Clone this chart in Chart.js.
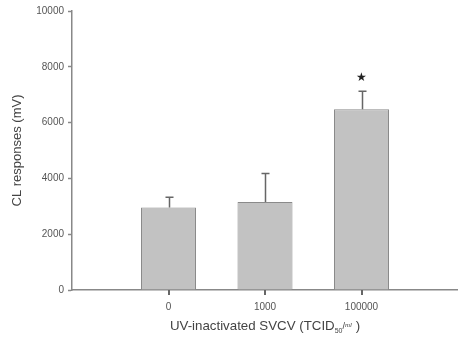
<!DOCTYPE html>
<html>
<head>
<meta charset="utf-8">
<script src="https://cdn.jsdelivr.net/npm/chart.js@4/dist/chart.umd.min.js"></script>
<style>
  body { margin: 0; background: #fff; }
  canvas { display: block; }
</style>
</head>
<body>
<canvas id="chart" width="458" height="341"></canvas>
<script>
// edge slots are empty so the bars sit one slot in from each end of the axis
var doses = ['', '0', '1000', '100000', ''];
var responses = [null, 2960, 3150, 6480, null];
var errUp = [null, 360, 1030, 640, null];
var starred = [false, false, false, true, false];
var yTicks = [0, 2000, 4000, 6000, 8000, 10000];

var fontName = '"Liberation Sans", Arial, sans-serif';

// error bars (upper half only) and the significance star
var errorBars = {
  id: 'errorBars',
  afterDatasetsDraw: function (chart) {
    var ctx = chart.ctx;
    var y = chart.scales.y;
    var meta = chart.getDatasetMeta(0);
    ctx.save();
    ctx.lineWidth = 1.5;
    ctx.strokeStyle = '#666';
    meta.data.forEach(function (bar, i) {
      if (responses[i] == null) return;
      var cx = Math.round(bar.x) + 0.5;
      var top = y.getPixelForValue(responses[i] + errUp[i]);
      ctx.beginPath();
      ctx.moveTo(cx, bar.y);
      ctx.lineTo(cx, top);
      ctx.moveTo(cx - 4, top);
      ctx.lineTo(cx + 4, top);
      ctx.stroke();
      if (starred[i]) {
        ctx.fillStyle = '#222';
        ctx.font = '12px ' + fontName;
        ctx.textAlign = 'center';
        ctx.textBaseline = 'middle';
        ctx.fillText('\u2605', bar.x, top - 14);
      }
    });
    ctx.restore();
  }
};

// x tick marks for the labelled slots and the x title (it needs a subscript)
var xTitle = {
  id: 'xTitle',
  afterDraw: function (chart) {
    var ctx = chart.ctx;
    var xs = chart.scales.x;
    ctx.save();
    ctx.strokeStyle = '#666';
    ctx.lineWidth = 2;
    doses.forEach(function (d, i) {
      if (d === '') return;
      var px = Math.round(xs.getPixelForValue(i));
      ctx.beginPath();
      ctx.moveTo(px, xs.top);
      ctx.lineTo(px, xs.top + 5);
      ctx.stroke();
    });

    var parts = [
      { t: 'UV-inactivated SVCV (TCID', f: '13.3px ' + fontName, dy: 0 },
      { t: '50', f: '7px ' + fontName, dy: 3 },
      { t: '/', f: '9px ' + fontName, dy: -1 },
      { t: 'ml', f: 'italic 7px "Liberation Serif", serif', dy: -3 },
      { t: ' )', f: '13.3px ' + fontName, dy: 0 }
    ];
    var total = 0;
    parts.forEach(function (p) { ctx.font = p.f; p.w = ctx.measureText(p.t).width; total += p.w; });
    var x = 265 - total / 2;
    var base = 330;
    ctx.fillStyle = '#444';
    ctx.textBaseline = 'alphabetic';
    ctx.textAlign = 'left';
    parts.forEach(function (p) {
      ctx.font = p.f;
      ctx.fillText(p.t, x, base + p.dy);
      x += p.w;
    });
    ctx.restore();
  }
};

new Chart(document.getElementById('chart'), {
  type: 'bar',
  data: {
    labels: doses,
    datasets: [{
      data: responses,
      backgroundColor: '#c2c2c2',
      borderColor: '#8a8a8a',
      borderWidth: 1,
      categoryPercentage: 1,
      barPercentage: 0.57
    }]
  },
  options: {
    responsive: false,
    animation: false,
    layout: { padding: { top: 11, right: 0, left: 0, bottom: 0 } },
    plugins: { legend: { display: false }, tooltip: { enabled: false } },
    scales: {
      x: {
        offset: false,
        grid: { display: false, offset: false },
        border: { display: true, color: '#888', width: 1.5 },
        ticks: { color: '#555', font: { size: 10, family: fontName }, padding: 3, maxRotation: 0, autoSkip: false },
        afterFit: function (s) { s.height = 51; s.paddingLeft = 0; s.paddingRight = 0; }
      },
      y: {
        min: 0,
        max: 10000,
        afterBuildTicks: function (s) { s.ticks = yTicks.map(function (v) { return { value: v }; }); },
        grid: { drawOnChartArea: false, tickLength: 4, tickWidth: 1.5, color: '#888' },
        border: { color: '#888', width: 1.5 },
        ticks: {
          color: '#555',
          font: { size: 10, family: fontName },
          padding: 4,
          callback: function (v) { return String(v); }
        },
        title: { display: true, text: 'CL responses (mV)', color: '#444', font: { size: 13, family: fontName }, padding: { top: 10, bottom: 0 } },
        afterFit: function (s) { s.width = 72; s.paddingTop = 0; s.paddingBottom = 0; }
      }
    }
  },
  plugins: [errorBars, xTitle]
});
</script>
</body>
</html>
